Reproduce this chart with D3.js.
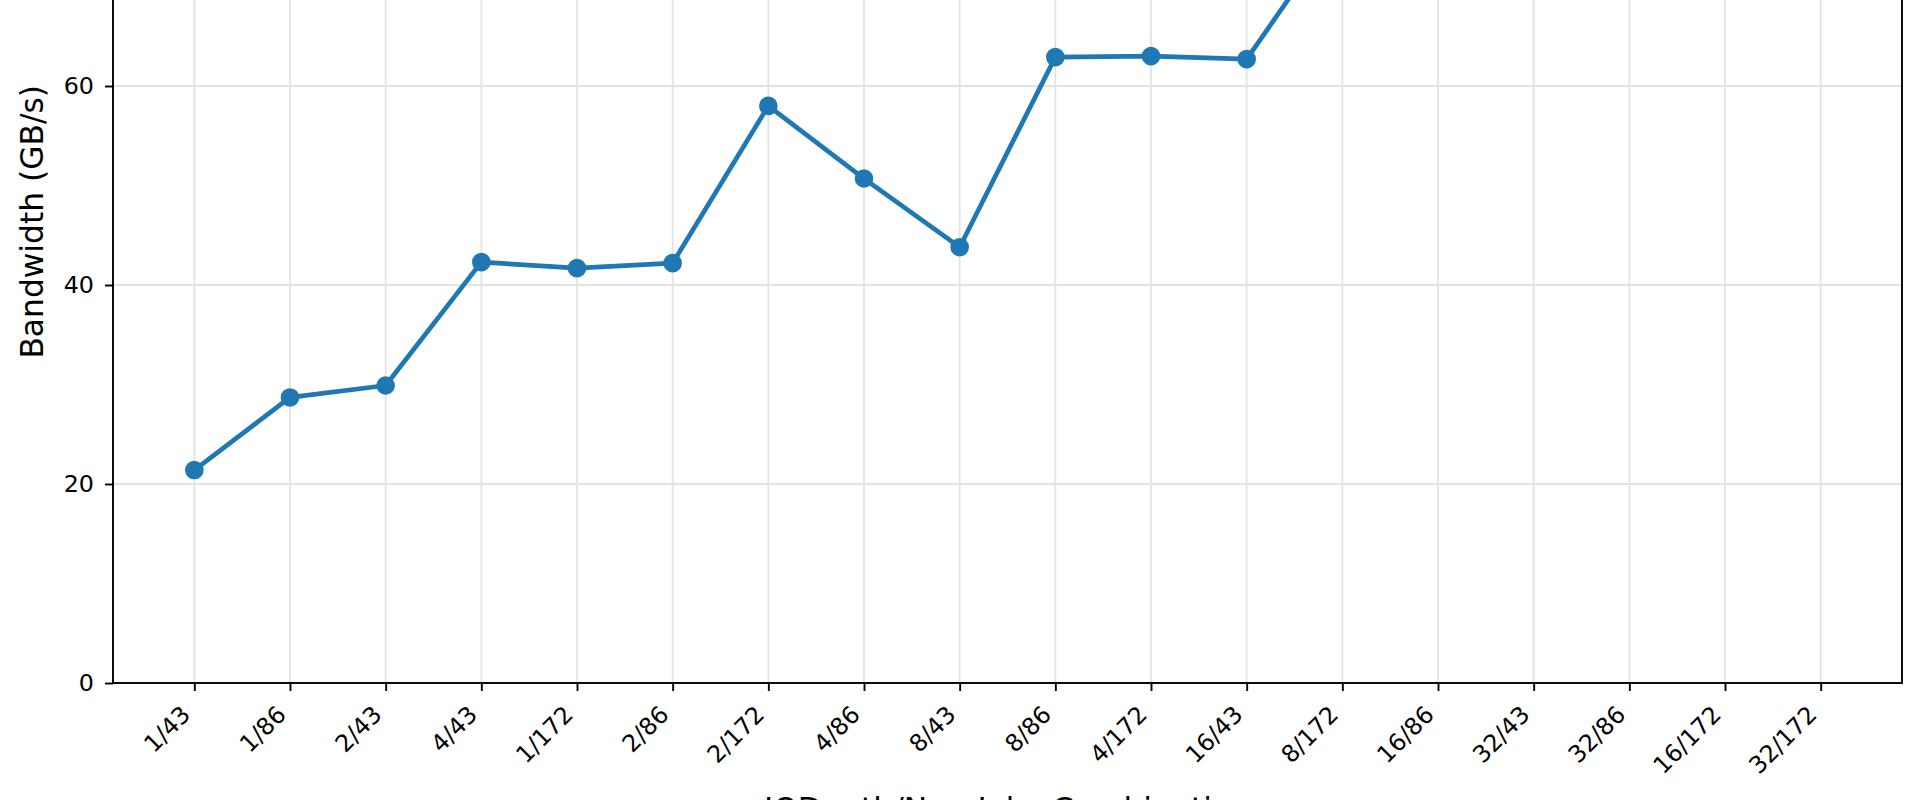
<!DOCTYPE html>
<html>
<head>
<meta charset="utf-8">
<script src="https://cdn.jsdelivr.net/npm/d3@7"></script>
<style>
  html, body { margin: 0; padding: 0; background: #fff; overflow: hidden; }
  svg { display: block; }
  text { font-family: "DejaVu Sans", sans-serif; fill: #000; }
</style>
</head>
<body>
<svg id="chart" width="1920" height="800"></svg>
<script>
// ---- data ----
const categories = ["1/43","1/86","2/43","4/43","1/172","2/86","2/172","4/86","8/43","8/86","4/172","16/43","8/172","16/86","32/43","32/86","16/172","32/172"];
const bandwidth = [21.4, 28.7, 29.9, 42.3, 41.7, 42.2, 58.0, 50.7, 43.8, 62.9, 63.0, 62.7, 76.5, 81.0, 84.0, 86.0, 87.0, 88.3];
const yTicks = [0, 20, 40, 60, 80];
const yLabel = "Bandwidth (GB/s)";
const xLabel = "IODepth/NumJobs Combination";

(function () {
// ---- layout ----
const plotLeft = 113, plotRight = 1902, plotBottom = 683;
const pxPerUnit = 9.95;
const yTop = 92.7;
const plotTop = plotBottom - yTop * pxPerUnit;

const svg = d3.select("#chart");
const x = d3.scaleLinear().domain([-0.85, categories.length - 1 + 0.85]).range([plotLeft, plotRight]);
const y = d3.scaleLinear().domain([0, yTop]).range([plotBottom, plotTop]);

const tickFont = 23.8, labelFont = 31.3;
const gridColor = "#e3e3e3";

// grid
const g = svg.append("g");
g.selectAll("line.vg").data(categories).enter().append("line")
  .attr("x1", (d, i) => x(i)).attr("x2", (d, i) => x(i))
  .attr("y1", plotTop).attr("y2", plotBottom)
  .attr("stroke", gridColor).attr("stroke-width", 1.8);
g.selectAll("line.hg").data(yTicks).enter().append("line")
  .attr("x1", plotLeft).attr("x2", plotRight)
  .attr("y1", d => y(d)).attr("y2", d => y(d))
  .attr("stroke", gridColor).attr("stroke-width", 1.8);

// line + markers
const line = d3.line().x((d, i) => x(i)).y(d => y(d));
svg.append("path").datum(bandwidth)
  .attr("d", line).attr("fill", "none")
  .attr("stroke", "#1f77b4").attr("stroke-width", 4.7)
  .attr("stroke-linejoin", "round").attr("stroke-linecap", "butt");
svg.selectAll("circle.pt").data(bandwidth).enter().append("circle")
  .attr("cx", (d, i) => x(i)).attr("cy", d => y(d)).attr("r", 9.3)
  .attr("fill", "#1f77b4");

// spines
svg.append("rect").attr("x", plotLeft).attr("y", plotTop)
  .attr("width", plotRight - plotLeft).attr("height", plotBottom - plotTop)
  .attr("fill", "none").attr("stroke", "#000").attr("stroke-width", 1.9);

// y axis
const yAxis = d3.axisLeft(y).tickValues(yTicks).tickSize(8).tickPadding(11).tickFormat(d3.format("d"));
const ya = svg.append("g").attr("transform", `translate(${plotLeft},0)`).call(yAxis);
ya.select(".domain").remove();
ya.selectAll(".tick line").attr("stroke", "#000").attr("stroke-width", 1.9);
ya.selectAll(".tick text").attr("font-size", tickFont).attr("font-family", "DejaVu Sans").attr("fill", "#000");

// x axis
const xAxis = d3.axisBottom(x).tickValues(d3.range(categories.length)).tickSize(8).tickFormat(i => categories[i]);
const xa = svg.append("g").attr("transform", `translate(0,${plotBottom})`).call(xAxis);
xa.select(".domain").remove();
xa.selectAll(".tick line").attr("stroke", "#000").attr("stroke-width", 1.9);
xa.selectAll(".tick text")
  .attr("font-size", tickFont).attr("font-family", "DejaVu Sans").attr("fill", "#000")
  .attr("text-anchor", "end")
  .attr("dy", null).attr("y", null)
  .attr("transform", "translate(-3,33) rotate(-45)");

// labels
svg.append("text")
  .attr("transform", `translate(43,${(plotTop + plotBottom) / 2}) rotate(-90)`)
  .attr("text-anchor", "middle").attr("font-size", labelFont)
  .text(yLabel);
svg.append("text")
  .attr("x", (plotLeft + plotRight) / 2).attr("y", 820)
  .attr("text-anchor", "middle").attr("font-size", labelFont)
  .text(xLabel);
})();
</script>
</body>
</html>
